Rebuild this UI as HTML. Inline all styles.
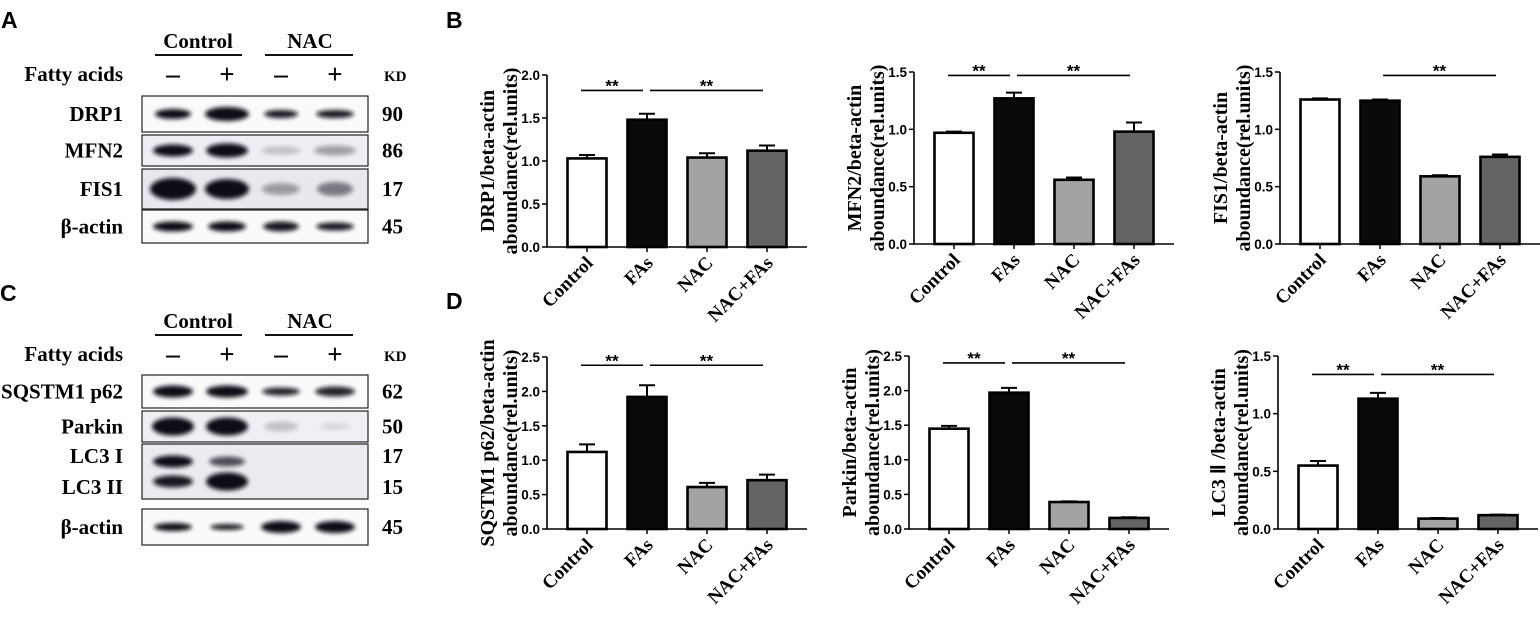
<!DOCTYPE html>
<html><head><meta charset="utf-8"><style>
html,body{margin:0;padding:0;background:#fff;}
svg{display:block;}
.tm{font-family:"Liberation Serif",serif;font-weight:bold;}
.ar{font-family:"Liberation Sans",sans-serif;font-weight:bold;}
</style></head><body>
<svg id="fig" width="1540" height="618" viewBox="0 0 1540 618" xmlns="http://www.w3.org/2000/svg">
<defs>
<filter id="blur" x="-30%" y="-100%" width="160%" height="300%"><feGaussianBlur stdDeviation="2.2"/></filter>
</defs>
<g id="blots"></g>
<g id="charts"></g>
</svg>
<script>
// ---------- chart data ----------
const categories = ["Control", "FAs", "NAC", "NAC+FAs"];
const drp1Values = [1.03, 1.48, 1.04, 1.12];
const drp1Errors = [0.04, 0.07, 0.05, 0.06];
const drp1Ticks = ["0.0", "0.5", "1.0", "1.5", "2.0"];
const mfn2Values = [0.97, 1.27, 0.56, 0.98];
const mfn2Errors = [0.01, 0.05, 0.02, 0.08];
const mfn2Ticks = ["0.0", "0.5", "1.0", "1.5"];
const fis1Values = [1.26, 1.25, 0.59, 0.76];
const fis1Errors = [0.01, 0.01, 0.01, 0.02];
const fis1Ticks = ["0.0", "0.5", "1.0", "1.5"];
const p62Values = [1.12, 1.92, 0.61, 0.71];
const p62Errors = [0.11, 0.17, 0.06, 0.08];
const p62Ticks = ["0.0", "0.5", "1.0", "1.5", "2.0", "2.5"];
const parkinValues = [1.45, 1.97, 0.39, 0.16];
const parkinErrors = [0.04, 0.07, 0.01, 0.01];
const parkinTicks = ["0.0", "0.5", "1.0", "1.5", "2.0", "2.5"];
const lc3Values = [0.55, 1.13, 0.09, 0.12];
const lc3Errors = [0.04, 0.05, 0.005, 0.005];
const lc3Ticks = ["0.0", "0.5", "1.0", "1.5"];
// significance brackets: [fromIndex, toIndex, yValue]
const drp1Sig = [[0, 1, 1.82], [1, 3, 1.82]];
const mfn2Sig = [[0, 1, 1.47], [1, 3, 1.47]];
const fis1Sig = [[1, 3, 1.47]];
const p62Sig = [[0, 1, 2.38], [1, 3, 2.38]];
const parkinSig = [[0, 1, 2.4], [1, 3, 2.4]];
const lc3Sig = [[0, 1, 1.34], [1, 3, 1.34]];

const NS = "http://www.w3.org/2000/svg";
const barFills = ["#ffffff", "#0a0a0a", "#a2a3a5", "#636463"];
function mk(tag, attrs, parent) {
  const e = document.createElementNS(NS, tag);
  for (const k in attrs) e.setAttribute(k, attrs[k]);
  parent.appendChild(e);
  return e;
}
const chartsG = document.getElementById("charts");

function drawChart(cfg, values, errors, ticks, sigs, title1, title2, name) {
  const g = mk("g", {}, chartsG);
  
  
  const maxV = parseFloat(ticks[ticks.length - 1]);
  const y = v => cfg.y0 - (v / maxV) * (cfg.y0 - cfg.yTop);
  const x = i => cfg.ax + 40 + i * 60;
  values.forEach((v, i) => {
    const r = mk("rect", {x: x(i) - 19.5, y: y(v), width: 39, height: cfg.y0 - y(v), fill: barFills[i], stroke: "#000", "stroke-width": 2.6}, g);
    
    
    const top = y(v), et = y(v + errors[i]);
    const eb = mk("path", {d: `M${x(i)},${top} V${et} M${x(i) - 8},${et} H${x(i) + 8}`, stroke: "#000", "stroke-width": 2, fill: "none"}, g);
    
    
  });
  const axes = mk("path", {d: `M${cfg.ax},${cfg.yTop} V${cfg.y0} H${cfg.ax + 260}`, stroke: "#000", "stroke-width": 1.6, fill: "none"}, g);
  
  
  ticks.forEach(t => {
    const v = parseFloat(t);
    mk("line", {x1: cfg.ax - 5, x2: cfg.ax, y1: y(v), y2: y(v), stroke: "#000", "stroke-width": 1.5}, g);
    const tx = mk("text", {x: cfg.ax - 7, y: y(v) + 5, "text-anchor": "end", "font-size": 13.5, class: "ar"}, g);
    tx.textContent = t;
    
    
  });
  categories.forEach((c, i) => {
    mk("line", {x1: x(i), x2: x(i), y1: cfg.y0, y2: cfg.y0 + 5, stroke: "#000", "stroke-width": 1.5}, g);
    const lx = x(i) + 7, ly = cfg.y0 + 17;
    const tx = mk("text", {x: lx, y: ly, "text-anchor": "end", "font-size": 19, class: "tm", transform: `rotate(-45 ${lx} ${ly})`}, g);
    tx.textContent = c;
    
    
  });
  const mid = (cfg.yTop + cfg.y0) / 2;
  [[title1, cfg.t1], [title2, cfg.t2]].forEach(([t, off]) => {
    const tx = mk("text", {x: cfg.ax + off, y: mid + 7, "text-anchor": "middle", "font-size": 20, class: "tm", transform: `rotate(-90 ${cfg.ax + off} ${mid})`}, g);
    tx.textContent = t;
    
    
  });
  sigs.forEach(s => {
    const x1 = s[0] === 0 ? x(s[0]) - 6 : x(s[0]) + 3;
    const x2 = x(s[1]) - 4;
    const ly = y(s[2]);
    const ln = mk("line", {x1: x1, x2: x2, y1: ly, y2: ly, stroke: "#000", "stroke-width": 1.6}, g);
    
    
    const st = mk("text", {x: (x1 + x2) / 2, y: ly + 1, "text-anchor": "middle", "font-size": 17, class: "ar"}, g);
    st.textContent = "**";
    
    
  });
}

drawChart({ax: 547, yTop: 75, y0: 247, t1: -60, t2: -37}, drp1Values, drp1Errors, drp1Ticks, drp1Sig, "DRP1/beta-actin", "aboundance(rel.units)", "drp1");
drawChart({ax: 914, yTop: 72, y0: 244, t1: -60, t2: -37}, mfn2Values, mfn2Errors, mfn2Ticks, mfn2Sig, "MFN2/beta-actin", "aboundance(rel.units)", "mfn2");
drawChart({ax: 1280, yTop: 72, y0: 244, t1: -60, t2: -37}, fis1Values, fis1Errors, fis1Ticks, fis1Sig, "FIS1/beta-actin", "aboundance(rel.units)", "fis1");
drawChart({ax: 547, yTop: 357, y0: 529, t1: -60, t2: -37}, p62Values, p62Errors, p62Ticks, p62Sig, "SQSTM1 p62/beta-actin", "aboundance(rel.units)", "p62");
drawChart({ax: 909, yTop: 356, y0: 529, t1: -60, t2: -37}, parkinValues, parkinErrors, parkinTicks, parkinSig, "Parkin/beta-actin", "aboundance(rel.units)", "parkin");
drawChart({ax: 1278, yTop: 356, y0: 529, t1: -60, t2: -37}, lc3Values, lc3Errors, lc3Ticks, lc3Sig, "LC3 \u2161 /beta-actin", "aboundance(rel.units)", "lc3");

[["A", 1, 28], ["B", 446, 28], ["C", 0, 301], ["D", 446, 309]].forEach(([t, lx, ly]) => {
  const tx = mk("text", {x: lx, y: ly, "font-size": 23, class: "ar"}, chartsG);
  tx.textContent = t;
  
  
});

// ---------- western blots ----------
const blotsG = document.getElementById("blots");
const lanes = [173, 227, 281, 335];
function header(top) {
  const g = mk("g", {}, blotsG);
  
  
  [["Control", 198, 155, 242], ["NAC", 310, 265, 353]].forEach(([t, cx, a, b]) => {
    const tx = mk("text", {x: cx, y: top + 18, "text-anchor": "middle", "font-size": 21, class: "tm"}, g);
    tx.textContent = t;
    
    
    mk("line", {x1: a, x2: b, y1: top + 25, y2: top + 25, stroke: "#111", "stroke-width": 2}, g);
  });
  const fa = mk("text", {x: 123, y: top + 51, "text-anchor": "end", "font-size": 21, class: "tm"}, g);
  fa.textContent = "Fatty acids";
  
  
  ["\u2013", "+", "\u2013", "+"].forEach((s, i) => {
    const tx = mk("text", {x: lanes[i], y: top + 53, "text-anchor": "middle", "font-size": 27, class: "tm"}, g);
    tx.textContent = s;
    
    
  });
  const kd = mk("text", {x: 384, y: top + 51, "font-size": 15, class: "tm"}, g);
  kd.textContent = "KD";
  
  
}
function blot(label, kd, y1, y2, bands, bg) {
  const g = mk("g", {}, blotsG);
  const nameText = Array.isArray(label) ? label[0][0] : label;
  
  
  mk("rect", {x: 142, y: y1, width: 226, height: y2 - y1, fill: bg || "#fafafa", stroke: "#222", "stroke-width": 1.2}, g);
  bands.forEach(b => {
    const [i, h, w, op, dy] = b;
    mk("ellipse", {cx: lanes[i], cy: (y1 + y2) / 2 + (dy || 0), rx: w, ry: h, fill: "#0c0c18", opacity: op, filter: "url(#blur)"}, g);
  });
  const labels = Array.isArray(label) ? label : [[label, (y1 + y2) / 2 + 7]];
  labels.forEach(([t, ly]) => {
    const tx = mk("text", {x: 123, y: ly, "text-anchor": "end", "font-size": 21, class: "tm"}, g);
    tx.textContent = t;
    
    
  });
  const kds = Array.isArray(kd) ? kd : [[kd, (y1 + y2) / 2 + 7]];
  kds.forEach(([t, ly]) => {
    const tx = mk("text", {x: 382, y: ly, "font-size": 21, class: "tm"}, g);
    tx.textContent = t;
    
    
  });
}
header(30);
blot("DRP1", "90", 96, 132, [[0, 5, 18, 1], [1, 7, 22, 1], [2, 4, 17, 0.95], [3, 4, 19, 0.95]]);
blot("MFN2", "86", 135, 166, [[0, 6, 20, 1], [1, 7, 21, 1], [2, 4, 20, 0.2], [3, 5, 21, 0.35]], "#eeeef4");
blot("FIS1", "17", 169, 209, [[0, 11, 23, 1], [1, 10, 22, 1], [2, 6, 19, 0.35], [3, 7, 18, 0.5]], "#e8e8ee");
blot("\u03b2-actin", "45", 210, 243, [[0, 5, 20, 1], [1, 5, 19, 1], [2, 5, 18, 0.95], [3, 4, 19, 0.95]]);
header(310);
blot("SQSTM1 p62", "62", 375, 408, [[0, 6, 20, 1], [1, 6, 21, 1], [2, 4, 19, 0.9], [3, 5, 20, 0.9]]);
blot("Parkin", "50", 411, 442, [[0, 9, 21, 1], [1, 9, 21, 1], [2, 5, 17, 0.2], [3, 3, 15, 0.12]], "#f0f0f4");
blot([["LC3 I", 463], ["LC3 II", 494]], [["17", 463], ["15", 494]], 444, 499,
  [[0, 6, 20, 1, -10], [1, 5, 18, 0.7, -10], [0, 6, 20, 0.95, 10], [1, 9, 21, 1, 10]], "#ebebf0");
blot("\u03b2-actin", "45", 509, 545, [[0, 4, 19, 1], [1, 3, 17, 0.95], [2, 6, 20, 1], [3, 6, 20, 1]]);
</script>
</body></html>
